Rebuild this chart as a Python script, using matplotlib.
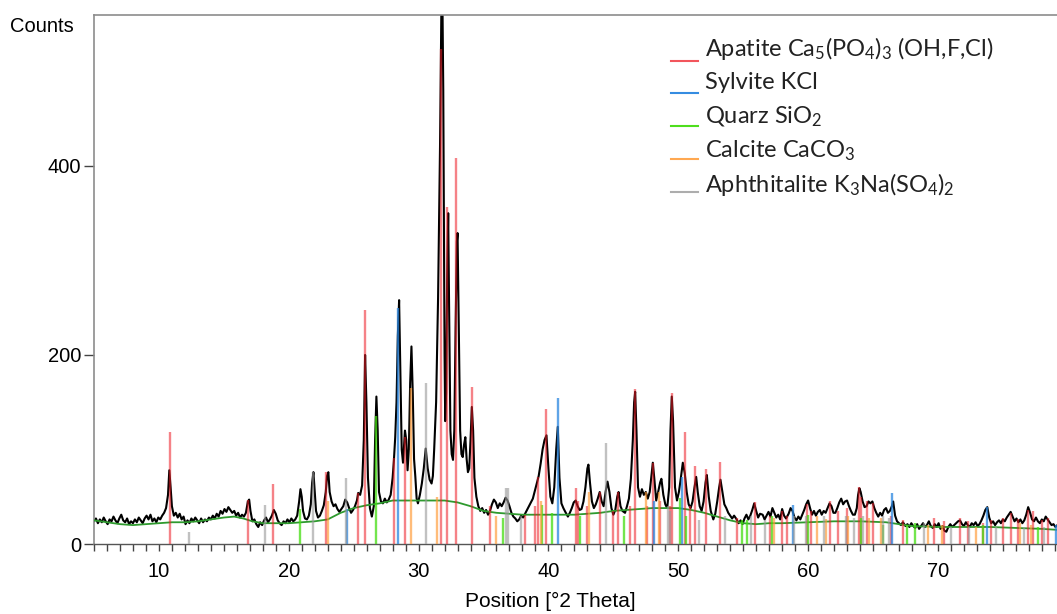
import matplotlib
matplotlib.use('Agg')
import matplotlib.pyplot as plt
from matplotlib.lines import Line2D
from matplotlib.ticker import MultipleLocator

trace_2theta = [
    5.0, 5.15, 5.3, 5.45, 5.6, 5.75, 5.9, 6.05, 6.2, 6.35, 6.5, 6.65, 6.8, 6.95, 7.1, 7.25, 7.4, 7.55, 7.7, 7.85,
    8.0, 8.15, 8.3, 8.45, 8.6, 8.75, 8.9, 9.05, 9.2, 9.35, 9.5, 9.65, 9.8, 9.95, 10.1, 10.25, 10.4, 10.55, 10.7, 10.8,
    10.9, 11.0, 11.15, 11.3, 11.45, 11.6, 11.75, 11.9, 12.05, 12.2, 12.35, 12.5, 12.65, 12.8, 12.95, 13.1, 13.25, 13.4, 13.55, 13.7,
    13.85, 14.0, 14.15, 14.3, 14.45, 14.6, 14.75, 14.9, 15.05, 15.2, 15.35, 15.5, 15.65, 15.8, 15.95, 16.1, 16.25, 16.4, 16.55, 16.7,
    16.85, 16.95, 17.05, 17.2, 17.35, 17.5, 17.65, 17.8, 17.95, 18.1, 18.25, 18.4, 18.55, 18.7, 18.85, 19.0, 19.15, 19.3, 19.45, 19.6,
    19.75, 19.9, 20.05, 20.2, 20.35, 20.5, 20.65, 20.8, 20.9, 21.0, 21.1, 21.25, 21.4, 21.55, 21.7, 21.8, 21.9, 22.0, 22.1, 22.25,
    22.4, 22.55, 22.7, 22.85, 22.95, 23.05, 23.15, 23.3, 23.45, 23.6, 23.75, 23.9, 24.05, 24.2, 24.35, 24.5, 24.65, 24.8, 24.95, 25.1,
    25.25, 25.35, 25.5, 25.65, 25.78, 25.88, 25.98, 26.1, 26.25, 26.4, 26.55, 26.65, 26.75, 26.85, 26.95, 27.1, 27.25, 27.4, 27.55, 27.7,
    27.85, 28.0, 28.1, 28.2, 28.3, 28.4, 28.5, 28.6, 28.7, 28.8, 28.95, 29.05, 29.15, 29.25, 29.35, 29.45, 29.55, 29.65, 29.75, 29.85,
    29.95, 30.1, 30.25, 30.4, 30.55, 30.7, 30.85, 31.0, 31.1, 31.2, 31.35, 31.5, 31.65, 31.75, 31.82, 31.9, 32.0, 32.05, 32.12, 32.2,
    32.28, 32.35, 32.45, 32.55, 32.65, 32.75, 32.85, 32.95, 33.0, 33.1, 33.2, 33.3, 33.4, 33.5, 33.6, 33.7, 33.8, 33.9, 34.0, 34.1,
    34.2, 34.3, 34.45, 34.6, 34.75, 34.9, 35.05, 35.2, 35.35, 35.5, 35.65, 35.8, 35.95, 36.1, 36.25, 36.4, 36.55, 36.7, 36.85, 37.0,
    37.15, 37.3, 37.45, 37.6, 37.75, 37.9, 38.05, 38.2, 38.35, 38.5, 38.65, 38.8, 38.95, 39.1, 39.25, 39.4, 39.55, 39.7, 39.85, 40.0,
    40.15, 40.3, 40.45, 40.6, 40.72, 40.85, 41.0, 41.15, 41.3, 41.5, 41.65, 41.8, 41.95, 42.1, 42.25, 42.4, 42.55, 42.7, 42.85, 43.0,
    43.08, 43.2, 43.35, 43.5, 43.65, 43.8, 43.95, 44.1, 44.25, 44.4, 44.55, 44.7, 44.85, 45.0, 45.15, 45.3, 45.4, 45.55, 45.7, 45.9,
    46.05, 46.2, 46.35, 46.5, 46.6, 46.68, 46.78, 46.9, 47.05, 47.2, 47.35, 47.5, 47.65, 47.8, 47.95, 48.04, 48.15, 48.3, 48.45, 48.6,
    48.7, 48.85, 49.0, 49.15, 49.3, 49.4, 49.5, 49.6, 49.75, 49.9, 50.05, 50.2, 50.35, 50.5, 50.65, 50.8, 50.95, 51.1, 51.25, 51.38,
    51.5, 51.65, 51.8, 51.95, 52.1, 52.2, 52.35, 52.5, 52.7, 52.85, 53.0, 53.15, 53.25, 53.4, 53.55, 53.7, 53.85, 54.0, 54.15, 54.3,
    54.5, 54.65, 54.8, 54.95, 55.1, 55.25, 55.4, 55.55, 55.7, 55.85, 56.0, 56.15, 56.3, 56.5, 56.65, 56.8, 56.95, 57.1, 57.25, 57.4,
    57.55, 57.7, 57.85, 58.0, 58.15, 58.3, 58.5, 58.65, 58.8, 58.95, 59.1, 59.25, 59.4, 59.55, 59.7, 59.85, 60.0, 60.15, 60.3, 60.45,
    60.6, 60.75, 60.9, 61.05, 61.2, 61.35, 61.5, 61.65, 61.8, 61.95, 62.1, 62.25, 62.4, 62.55, 62.7, 62.85, 63.0, 63.15, 63.3, 63.45,
    63.6, 63.75, 63.85, 63.95, 64.05, 64.2, 64.35, 64.5, 64.65, 64.8, 64.95, 65.1, 65.25, 65.4, 65.55, 65.7, 65.85, 66.0, 66.15, 66.3,
    66.45, 66.55, 66.7, 66.85, 67.0, 67.15, 67.3, 67.5, 67.65, 67.8, 67.95, 68.1, 68.25, 68.4, 68.55, 68.7, 68.85, 69.0, 69.15, 69.3,
    69.45, 69.6, 69.75, 69.9, 70.05, 70.2, 70.35, 70.5, 70.65, 70.8, 70.95, 71.1, 71.25, 71.4, 71.55, 71.7, 71.85, 72.0, 72.15, 72.3,
    72.45, 72.6, 72.75, 72.9, 73.05, 73.2, 73.35, 73.5, 73.65, 73.8, 73.95, 74.1, 74.25, 74.4, 74.55, 74.7, 74.85, 75.0, 75.15, 75.3,
    75.45, 75.6, 75.75, 75.9, 76.05, 76.2, 76.35, 76.5, 76.65, 76.8, 76.95, 77.1, 77.25, 77.4, 77.55, 77.7, 77.85, 78.0, 78.15, 78.3,
    78.45, 78.6, 78.75, 78.9, 79.05, 79.2,
]
trace_counts = [
    24, 27, 22, 26, 23, 28, 24, 21, 26, 24, 29, 25, 22, 27, 31, 25, 23, 27, 21, 24,
    22, 26, 23, 28, 25, 22, 27, 30, 26, 31, 24, 27, 23, 28, 26, 30, 33, 38, 52, 78,
    60, 40, 30, 33, 28, 32, 26, 29, 21, 25, 22, 27, 24, 28, 25, 22, 27, 23, 26, 24,
    28, 26, 30, 27, 32, 29, 35, 32, 37, 34, 39, 36, 33, 35, 30, 33, 28, 31, 29, 33,
    45, 47, 35, 24, 26, 21, 18, 23, 20, 25, 28, 23, 26, 30, 36, 32, 25, 22, 20, 24,
    22, 26, 23, 27, 24, 26, 30, 45, 58, 50, 35, 27, 26, 30, 42, 65, 76, 55, 35, 28,
    30, 35, 41, 55, 72, 76, 55, 45, 40, 42, 37, 34, 37, 40, 47, 44, 38, 33, 36, 40,
    46, 54, 52, 62, 110, 200, 150, 70, 38, 29, 40, 110, 156, 120, 55, 45, 43, 48, 44, 47,
    52, 70, 89, 113, 150, 220, 258, 180, 100, 86, 120, 110, 78, 100, 170, 209, 160, 90, 71, 48,
    43, 52, 64, 80, 101, 80, 68, 64, 72, 100, 150, 260, 420, 560, 600, 480, 200, 130, 160, 280,
    350, 250, 120, 95, 89, 120, 230, 320, 329, 220, 120, 95, 92, 105, 113, 90, 76, 80, 110, 145,
    120, 70, 50, 40, 35, 38, 33, 36, 31, 35, 42, 47, 44, 38, 43, 40, 44, 49, 46, 40,
    33, 29, 27, 24, 26, 30, 28, 32, 36, 40, 44, 48, 56, 64, 72, 85, 100, 110, 115, 80,
    50, 43, 60, 100, 124, 70, 43, 38, 34, 29, 33, 38, 44, 46, 40, 36, 37, 45, 60, 80,
    84, 65, 45, 38, 42, 48, 55, 45, 40, 55, 66, 55, 38, 31, 36, 50, 55, 40, 35, 33,
    40, 48, 69, 110, 150, 161, 120, 60, 50, 58, 52, 55, 48, 55, 75, 86, 70, 46, 55, 65,
    69, 52, 42, 38, 60, 120, 156, 130, 60, 46, 55, 70, 86, 75, 55, 42, 38, 45, 60, 71,
    55, 40, 35, 45, 65, 73, 50, 35, 26, 32, 45, 60, 68, 55, 42, 38, 33, 30, 27, 30,
    26, 22, 25, 21, 27, 31, 26, 30, 36, 43, 35, 28, 32, 31, 26, 30, 34, 29, 38, 33,
    28, 31, 26, 37, 30, 27, 32, 38, 35, 28, 25, 29, 26, 31, 36, 42, 46, 38, 31, 35,
    30, 34, 36, 31, 35, 33, 38, 43, 40, 33, 33, 38, 44, 48, 42, 45, 46, 40, 35, 31,
    31, 38, 52, 59, 55, 45, 39, 40, 45, 43, 45, 38, 33, 29, 33, 30, 36, 38, 33, 35,
    40, 45, 30, 24, 22, 20, 23, 19, 21, 18, 22, 19, 17, 21, 16, 19, 22, 18, 20, 24,
    19, 17, 21, 18, 22, 16, 19, 14, 13, 18, 21, 18, 20, 22, 24, 25, 21, 19, 23, 20,
    18, 22, 20, 23, 19, 21, 25, 30, 36, 39, 28, 22, 24, 20, 23, 25, 22, 26, 24, 28,
    31, 34, 29, 24, 27, 23, 26, 22, 25, 31, 39, 33, 26, 24, 28, 24, 22, 26, 24, 29,
    26, 23, 20, 21, 18, 20,
]

# fitted background
bg_2theta = [5, 6, 7, 8, 9, 10, 11, 12, 13, 14, 15, 15.8, 16.5, 17.2, 18, 19, 20, 21, 22, 23,
             24, 25, 26, 27, 28, 29, 30, 31, 32, 33, 34, 35, 36, 37, 38, 39, 40, 41, 42, 43,
             44, 45, 46, 47, 48, 49, 50, 51, 52, 53, 54, 55, 56, 57, 58, 60, 62, 64, 66, 67,
             68, 70, 72, 74, 76, 78, 79.2]
bg_counts = [25, 23, 21, 20, 21, 22, 23, 23, 24, 26, 28, 29, 27, 24, 22, 22, 22, 23, 24, 26,
             33, 38, 41, 43, 46, 46, 46, 46, 46, 44, 40, 35, 33, 32, 31, 31, 31, 31, 31, 32,
             33, 35, 36, 37, 38, 38, 38, 36, 33, 29, 25, 22, 21, 22, 22, 23, 24, 24, 23, 21,
             19, 18, 18, 18, 17, 16, 15]

# reference sticks per phase
apatite_pos = [10.82, 16.85, 18.8, 22.9, 25.35, 25.88, 28.1, 28.96, 31.75, 32.2, 32.9, 34.1, 35.5,
               38.2, 39.0, 39.2, 39.85, 42.1, 42.3, 43.0, 44.0, 45.0, 45.35, 46.3, 46.7, 47.6, 48.05,
               48.6, 49.4, 49.5, 50.5, 50.9, 51.3, 52.1, 53.2, 54.5, 55.9, 57.1, 58.0, 58.4, 59.9,
               60.2, 61.7, 62.3, 63.0, 63.95, 64.1, 64.5, 65.0, 66.4, 67.3, 69.7, 70.5, 71.7, 72.3,
               73.5, 74.1, 75.0, 75.6, 76.2, 76.9, 77.3, 78.0, 78.5]
apatite_h = [119, 47, 63, 76, 54, 248, 91, 113, 524, 357, 408, 166, 40,
             31, 40, 71, 143, 59, 45, 40, 55, 35, 55, 40, 164, 40, 86,
             45, 40, 160, 118, 40, 82, 79, 87, 28, 44, 30, 35, 30, 42,
             35, 45, 35, 38, 60, 50, 45, 43, 30, 25, 28, 24, 28, 24,
             22, 25, 28, 33, 26, 36, 35, 25, 28]
sylvite_pos = [24.5, 28.45, 40.7, 48.1, 50.3, 58.8, 66.5, 73.8, 79.1]
sylvite_h = [37, 250, 154, 45, 71, 41, 54, 39, 20]
quartz_pos = [20.9, 26.7, 36.5, 39.5, 40.3, 42.45, 45.8, 50.15, 50.6, 54.9, 55.3, 57.2, 60.0,
              64.1, 65.8, 67.6, 68.25, 73.5, 77.7]
quartz_h = [37, 135, 28, 41, 33, 30, 30, 49, 30, 25, 25, 30, 31, 28, 20, 20, 22, 20, 18]
calcite_pos = [23.05, 29.4, 31.45, 36.0, 39.4, 43.15, 47.5, 48.5, 57.4, 60.7, 61.4, 63.1, 64.7,
               65.6, 69.2, 70.3, 72.9, 76.3, 77.2]
calcite_h = [45, 165, 50, 30, 45, 55, 55, 55, 28, 30, 26, 30, 28, 28, 20, 20, 18, 22, 20]
aphth_pos = [12.3, 18.2, 21.85, 24.4, 30.55, 36.75, 36.85, 37.9, 44.45, 49.2, 49.35, 51.6, 53.6,
             55.6, 56.7, 58.9, 59.8, 61.2, 62.9, 63.5, 64.2, 65.8, 66.2, 68.9, 71.0, 72.4, 74.5,
             76.6, 78.2]
aphth_h = [13, 41, 76, 70, 170, 59, 59, 30, 107, 40, 35, 25, 30, 30, 25, 30, 30, 30, 30, 28,
           30, 30, 28, 22, 18, 18, 18, 18, 18]

phases = [
    ('Apatite Ca$\\mathregular{_5}$(PO$\\mathregular{_4}$)$\\mathregular{_3}$ (OH,F,Cl)',
     apatite_pos, apatite_h, '#ee1c25', 0.55),
    ('Sylvite KCl', sylvite_pos, sylvite_h, '#2a86e0', 0.75),
    ('Quarz SiO$\\mathregular{_2}$', quartz_pos, quartz_h, '#44dd11', 0.75),
    ('Calcite CaCO$\\mathregular{_3}$', calcite_pos, calcite_h, '#ff9933', 0.65),
    ('Aphthitalite K$\\mathregular{_3}$Na(SO$\\mathregular{_4}$)$\\mathregular{_2}$',
     aphth_pos, aphth_h, '#999999', 0.6),
]

plt.rcParams['font.family'] = ['Liberation Sans', 'DejaVu Sans']

fig = plt.figure(figsize=(10.57, 6.14), dpi=100)
ax = fig.add_axes([94 / 1057, 1 - 544 / 614, 963 / 1057, (544 - 14.7) / 614])

ax.plot(trace_2theta, trace_counts, color='black', lw=1.5, zorder=2)
ax.plot(bg_2theta, bg_counts, color='#2e9a2e', lw=1.3, zorder=3)
for label, pos, h, col, a in phases:
    ax.vlines(pos, 0, h, colors=col, lw=1.7, alpha=a, zorder=4)

ax.set_xlim(5, 79.17)
ax.set_ylim(0, 560)

ax.spines['right'].set_visible(False)
for s in ('top', 'left'):
    ax.spines[s].set_color('#8c8c8c')
    ax.spines[s].set_linewidth(1.2)
ax.spines['bottom'].set_color('#555555')
ax.spines['bottom'].set_linewidth(1.0)

ax.xaxis.set_major_locator(MultipleLocator(10))
ax.xaxis.set_minor_locator(MultipleLocator(1))
ax.set_yticks([0, 200, 400])
ax.tick_params(axis='x', which='both', direction='out', length=5, width=1.0,
               color='#444444', labelsize=14.5, pad=8)
ax.tick_params(axis='y', direction='out', length=7, width=1.0,
               color='#444444', labelsize=14.5, pad=2)

fig.text(10 / 1057, 1 - 27 / 614, 'Counts', fontsize=14.5, va='center', ha='left')
fig.text(550 / 1057, 1 - 601 / 614, 'Position [°2 Theta]', fontsize=15, va='center', ha='center')

# legend drawn by hand: short line + label
for i, (label, pos, h, col, a) in enumerate(phases):
    y_line = 60.7 + i * 32.7
    y_text = 48 + i * 34.2
    fig.add_artist(Line2D([671 / 1057, 698 / 1057], [1 - y_line / 614] * 2,
                          color=col, lw=1.5, alpha=min(1, a + 0.2)))
    fig.text(705 / 1057, 1 - y_text / 614, label, fontsize=17,
             family=['Lato', 'DejaVu Sans'], va='center', ha='left', color='#222222')

fig.savefig('out.png', dpi=100, facecolor='white')
